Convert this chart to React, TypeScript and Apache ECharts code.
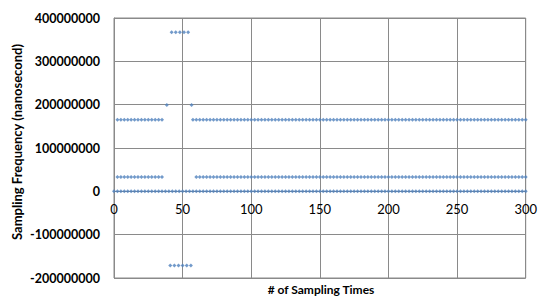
import React, { useEffect, useRef } from "react";
import * as echarts from "echarts";

// # of sampling times at which samples were plotted
const sampleTimes = [
  0, 2.5, 5, 7.5, 10, 12.5, 15, 17.5, 20, 22.5, 25, 27.5, 30, 32.5, 35, 37.5, 40, 42.5, 45, 47.5,
  50, 52.5, 55, 57.5, 60, 62.5, 65, 67.5, 70, 72.5, 75, 77.5, 80, 82.5, 85, 87.5, 90, 92.5, 95, 97.5,
  100, 102.5, 105, 107.5, 110, 112.5, 115, 117.5, 120, 122.5, 125, 127.5, 130, 132.5, 135, 137.5, 140,
  142.5, 145, 147.5, 150, 152.5, 155, 157.5, 160, 162.5, 165, 167.5, 170, 172.5, 175, 177.5, 180, 182.5,
  185, 187.5, 190, 192.5, 195, 197.5, 200, 202.5, 205, 207.5, 210, 212.5, 215, 217.5, 220, 222.5, 225,
  227.5, 230, 232.5, 235, 237.5, 240, 242.5, 245, 247.5, 250, 252.5, 255, 257.5, 260, 262.5, 265, 267.5,
  270, 272.5, 275, 277.5, 280, 282.5, 285, 287.5, 290, 292.5, 295, 297.5, 300,
];

// constant levels (nanosecond)
const zeroLevel = 0;
const lowLevel = 33000000;
const highLevel = 165000000;

// sampling times where the low/high levels are missing (glitch window)
const lowGap = [36, 59];
const highGap = [36, 57];

// glitch samples
const edgeTimes = [38.5, 56.5];
const edgeValue = 199000000;
const spikeHighTimes = [42, 45, 48, 51, 54];
const spikeHighValue = 367000000;
const spikeLowTimes = [41, 44, 47, 50, 53, 56];
const spikeLowValue = -171000000;

const yTicks = { min: -200000000, max: 400000000, interval: 100000000 };
const xTicks = { min: 0, max: 300, interval: 50 };

function buildPoints(): number[][] {
  const pts: number[][] = [];
  sampleTimes.forEach((t) => pts.push([t, zeroLevel]));
  sampleTimes.forEach((t) => {
    if (t > 0 && (t < lowGap[0] || t > lowGap[1])) pts.push([t, lowLevel]);
  });
  sampleTimes.forEach((t) => {
    if (t > 0 && (t < highGap[0] || t > highGap[1])) pts.push([t, highLevel]);
  });
  edgeTimes.forEach((t) => pts.push([t, edgeValue]));
  spikeHighTimes.forEach((t) => pts.push([t, spikeHighValue]));
  spikeLowTimes.forEach((t) => pts.push([t, spikeLowValue]));
  return pts;
}

const FONT = "Lato, 'Open Sans', sans-serif";
const GRID_COLOR = "#8a8a8a";
const GRID_TOP = 18;
const GRID_BOTTOM = 22;
const CHART_H = 300;

export default function App() {
  const ref = useRef<HTMLDivElement>(null);
  useEffect(() => {
    if (!ref.current) return;
    const chart = echarts.init(ref.current, undefined, { renderer: "svg" });
    const plotH = CHART_H - GRID_TOP - GRID_BOTTOM;
    // distance of the zero line from the bottom of the plot
    const zeroOffset = (plotH * (0 - yTicks.min)) / (yTicks.max - yTicks.min);
    chart.setOption({
      animation: false,
      backgroundColor: "#ffffff",
      grid: {
        left: 114,
        right: 11,
        top: GRID_TOP,
        bottom: GRID_BOTTOM,
        show: true,
        borderColor: GRID_COLOR,
        borderWidth: 1,
      },
      xAxis: {
        type: "value",
        min: xTicks.min,
        max: xTicks.max,
        interval: xTicks.interval,
        offset: -zeroOffset,
        axisLine: { show: true, onZero: false, lineStyle: { color: GRID_COLOR, width: 1 } },
        axisTick: { show: false },
        axisLabel: {
          color: "#000",
          fontFamily: FONT,
          fontSize: 13,
          margin: 11,
        },
        splitLine: { show: true, lineStyle: { color: GRID_COLOR, width: 1 } },
      },
      yAxis: {
        type: "value",
        min: yTicks.min,
        max: yTicks.max,
        interval: yTicks.interval,
        axisLine: { show: true, lineStyle: { color: GRID_COLOR, width: 1 } },
        axisTick: { show: false },
        axisLabel: {
          color: "#000",
          fontFamily: FONT,
          fontSize: 12.5,
          fontWeight: "bold",
          margin: 14,
          formatter: (v: number) => String(v),
        },
        splitLine: { show: true, lineStyle: { color: GRID_COLOR, width: 1 } },
      },
      series: [
        {
          type: "scatter",
          data: buildPoints(),
          symbol: "diamond",
          symbolSize: 4,
          itemStyle: { color: "#4F81BD" },
        },
      ],
      graphic: [
        {
          type: "text",
          x: 17,
          y: 142,
          rotation: Math.PI / 2,
          style: {
            text: "Sampling Frequency (nanosecond)",
            font: `bold 13px ${FONT}`,
            fill: "#000",
            align: "center",
            verticalAlign: "middle",
          },
        },
        {
          type: "text",
          x: 321,
          y: 289,
          style: {
            text: "# of Sampling Times",
            font: `bold 12px ${FONT}`,
            fill: "#000",
            align: "center",
            verticalAlign: "middle",
          },
        },
      ],
    });
    return () => chart.dispose();
  }, []);
  return (
    <div
      ref={ref}
      style={{ position: "fixed", left: 0, top: 0, width: 540, height: 300 }}
    />
  );
}
